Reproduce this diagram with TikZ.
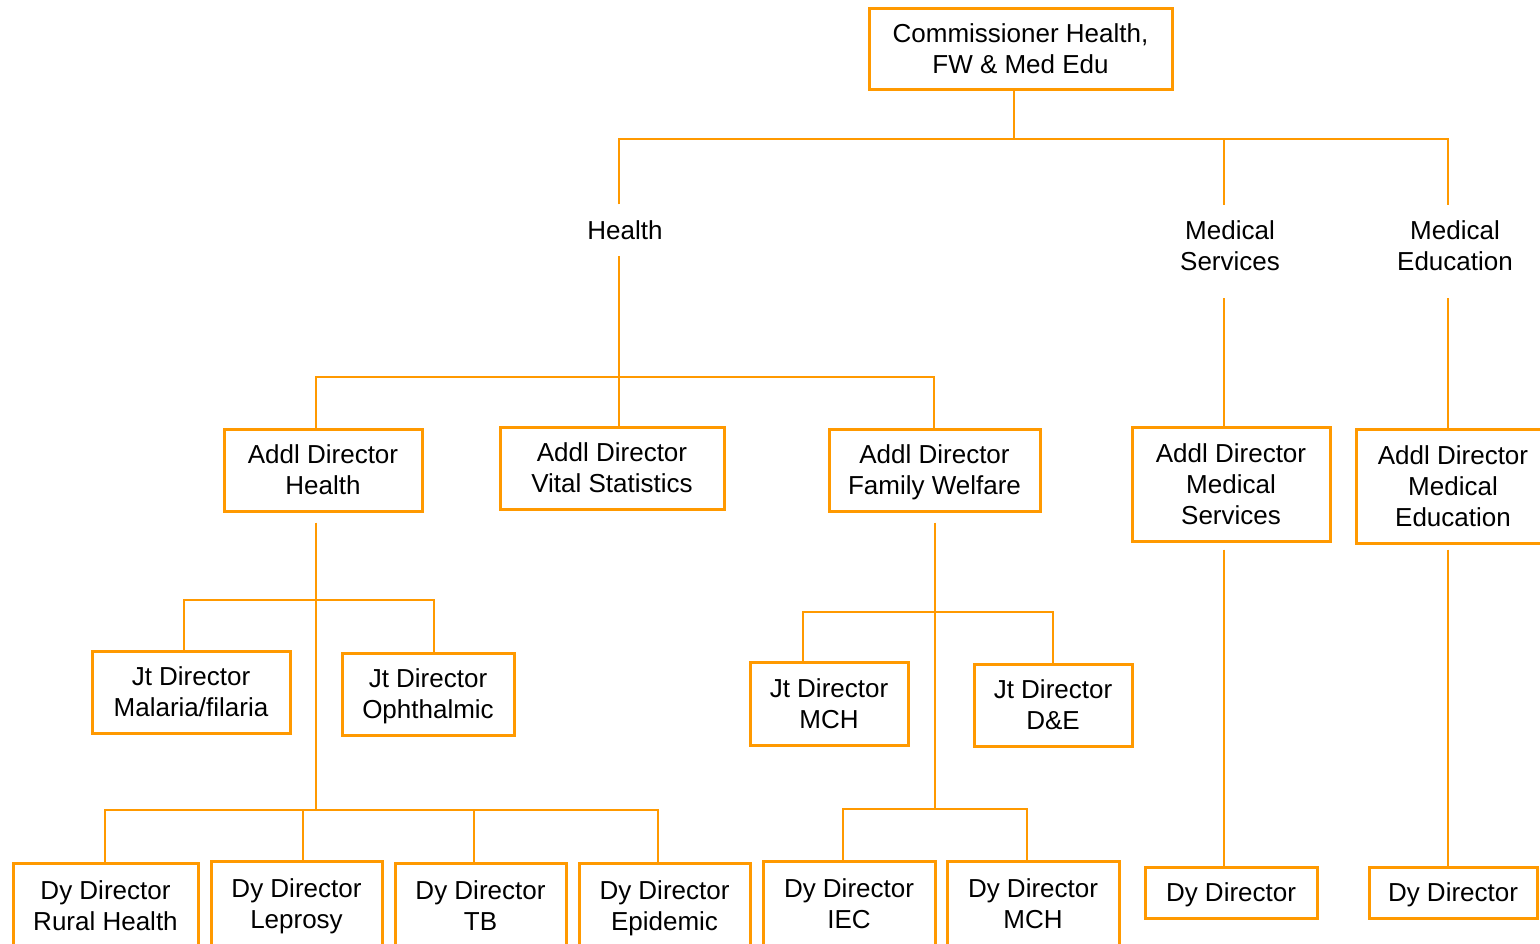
\documentclass[tikz,border=0pt]{standalone}
\usepackage{fontspec}
\setmainfont{Liberation Sans}
\definecolor{org}{RGB}{255,153,0}
\newcommand\nodp[1]{\raisebox{0pt}[\height][0pt]{#1}}
\begin{document}
\begin{tikzpicture}[x=1pt,y=-1pt,
  box/.style={draw=org, line width=3pt, fill=white, inner sep=0pt, align=center,
    font=\fontsize{26}{31}\selectfont, text=black},
  lbl/.style={inner xsep=0pt, inner ysep=16pt, align=center,
    font=\fontsize{26}{31}\selectfont, text=black},
  conn/.style={draw=org, line width=2.6pt}]
\fill[white] (0,0) rectangle (1540,943);
\useasboundingbox (0,0) rectangle (1540,943);
\clip (0,0) rectangle (1540,943);

% top
\node[box, minimum width=303, minimum height=81] (comm) at (1020.5,48.5) {Commissioner Health,\\\nodp{FW \& Med Edu}};

% labels
\node[lbl] (health) at (625,230) {Health};
\node[lbl] (msv) at (1230,246) {Medical\\Services};
\node[lbl] (med) at (1455,246) {Medical\\Education};

% addl directors
\node[box, minimum width=198, minimum height=82] (adh) at (323,470) {Addl Director\\\nodp{Health}};
\node[box, minimum width=224, minimum height=82] (avs) at (612,468) {Addl Director\\\nodp{Vital Statistics}};
\node[box, minimum width=211, minimum height=82] (afw) at (934.5,470) {Addl Director\\\nodp{Family Welfare}};
\node[box, minimum width=198, minimum height=114] (ams) at (1231,484) {Addl Director\\Medical\\\nodp{Services}};
\node[box, minimum width=194, minimum height=114] (ame) at (1453,486) {Addl Director\\Medical\\\nodp{Education}};

% jt directors
\node[box, minimum width=198, minimum height=82] (jmal) at (191,692) {Jt Director\\\nodp{Malaria/filaria}};
\node[box, minimum width=172, minimum height=82] (joph) at (428,694) {Jt Director\\\nodp{Ophthalmic}};
\node[box, minimum width=158, minimum height=83] (jmch) at (829,703.5) {Jt Director\\\nodp{MCH}};
\node[box, minimum width=158, minimum height=82] (jde) at (1053,705) {Jt Director\\\nodp{D\&E}};

% dy directors
\node[box, minimum width=185, minimum height=85] (drh) at (105.5,905.5) {Dy Director\\\nodp{Rural Health}};
\node[box, minimum width=171, minimum height=85] (dlep) at (296.5,903.5) {Dy Director\\\nodp{Leprosy}};
\node[box, minimum width=171, minimum height=85] (dtb) at (480.5,905.5) {Dy Director\\\nodp{TB}};
\node[box, minimum width=171, minimum height=85] (dep) at (664.5,905.5) {Dy Director\\\nodp{Epidemic}};
\node[box, minimum width=172, minimum height=85] (diec) at (849,903.5) {Dy Director\\\nodp{IEC}};
\node[box, minimum width=172, minimum height=85] (dmch) at (1033,903.5) {Dy Director\\\nodp{MCH}};
\node[box, minimum width=172, minimum height=51] (dms) at (1231,892.5) {\nodp{Dy Director}};
\node[box, minimum width=168, minimum height=51] (dme) at (1453,892.5) {\nodp{Dy Director}};

% bus coordinates
\coordinate (b0) at (1014,139);
\coordinate (b1) at (619,377);
\coordinate (b2) at (316,600);
\coordinate (b3) at (316,810);
\coordinate (b4) at (935,612);
\coordinate (b5) at (935,809);

% level 1
\draw[conn] ([xshift=-6.5pt]comm.south) -- (b0);
\draw[conn] ([xshift=-6pt]health.north) |- (b0) -| ([xshift=-6pt]msv.north);
\draw[conn] (b0) -| ([xshift=-7pt]med.north);

% health
\draw[conn] ([xshift=-6pt]health.south) -- (b1);
\draw[conn] ([xshift=-7pt]adh.north) |- (b1) -| ([xshift=-0.5pt]afw.north);
\draw[conn] (b1) -- ([xshift=7pt]avs.north);

% medical services / education
\draw[conn, shorten <=11pt] ([xshift=-6pt]msv.south) -- ([xshift=-7pt]ams.north);
\draw[conn, shorten <=11pt] ([xshift=-7pt]med.south) -- ([xshift=-5pt]ame.north);
\draw[conn, shorten <=7pt] ([xshift=-7pt]ams.south) -- ([xshift=-7pt]dms.north);
\draw[conn, shorten <=5pt] ([xshift=-5pt]ame.south) -- ([xshift=-5pt]dme.north);

% addl director health
\draw[conn, shorten <=10pt] ([xshift=-7pt]adh.south) -- (b3);
\draw[conn] ([xshift=-7pt]jmal.north) |- (b2) -| ([xshift=6pt]joph.north);
\draw[conn] ([xshift=-0.5pt]drh.north) |- (b3) -| ([xshift=-6.5pt]dep.north);
\draw[conn] ([xshift=6.5pt]dlep.north) -- ([xshift=6.5pt]dlep.north |- b3);
\draw[conn] ([xshift=-6.5pt]dtb.north) -- ([xshift=-6.5pt]dtb.north |- b3);

% addl director family welfare
\draw[conn, shorten <=10pt] ([xshift=0.5pt]afw.south) -- (b5);
\draw[conn] ([xshift=-26pt]jmch.north) |- (b4) -| (jde.north);
\draw[conn] ([xshift=-6pt]diec.north) |- (b5) -| ([xshift=-6pt]dmch.north);
\end{tikzpicture}
\end{document}
